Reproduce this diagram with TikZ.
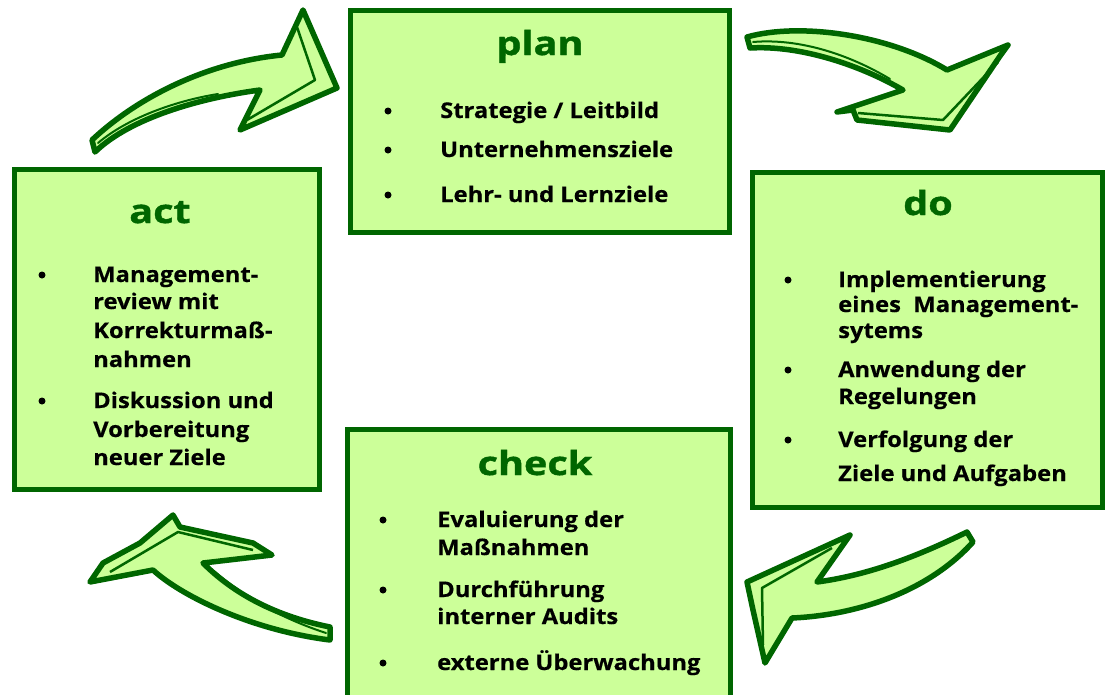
\documentclass[tikz,border=0pt]{standalone}
\usepackage{fontspec}
\setmainfont{Open Sans}
\newfontfamily\itemfont{Open Sans}[FakeStretch=1.1,FakeBold=0.4]
\newfontfamily\titlefont{Open Sans}[FakeStretch=1.2,FakeBold=1.2]
\definecolor{dg}{RGB}{0,102,0}
\definecolor{lg}{RGB}{204,255,153}
\tikzset{
 box/.style={draw=dg, fill=lg, line width=5pt, inner sep=0},
 ttl/.style={anchor=base, text=dg, font=\titlefont\fontsize{33}{33}\selectfont\bfseries, inner sep=0},
 itm/.style={anchor=base west, font=\itemfont\fontsize{21.6}{21.6}\selectfont\bfseries, inner sep=0},
 bul/.style={circle, fill=black, inner sep=0, minimum size=7pt},
 arr/.style={draw=dg, fill=lg, line width=5.5pt, line join=round},
 arrin/.style={draw=dg, line width=2.5pt, line join=round},
 arrline/.style={draw=dg, line width=2pt, line cap=round}
}
\begin{document}
\begin{tikzpicture}[x=1pt,y=-1pt]
\useasboundingbox (0,0) rectangle (1112,694);
\clip (0,0) rectangle (1112,694);
% boxes
\node[box, minimum width=379pt, minimum height=222pt] (planbox) at (540,121.5) {};
\node[box, minimum width=350pt, minimum height=335pt] (dobox) at (927.5,340) {};
\node[box, minimum width=383pt, minimum height=290pt] (checkbox) at (539,574.5) {};
\node[box, minimum width=305pt, minimum height=320pt] (actbox) at (167,329.5) {};
% arrows
% act -> plan
\path[arr] (92,140) .. controls (140,95) and (210,62) .. (282,55) -- (303,10) -- (337,88) -- (240,130) -- (260,90) .. controls (200,98) and (130,118) .. (95,152) -- cycle;
\draw[arrin] (297,27) -- (315,80) -- (247,120);
\draw[arrline] (98,143) .. controls (130,116) and (180,100) .. (218,94);
% plan -> do
\path[arr] (747,37) .. controls (800,22) and (890,35) .. (947,70) -- (1008,45) -- (1000,56) -- (950,130) -- (857,120) -- (853,110) -- (837,112) -- (903,90) .. controls (860,65) and (800,45) .. (750,48) -- cycle;
\draw[arrin] (998,62) -- (943,120) -- (858,113);
\draw[arrline] (753,42) .. controls (800,38) and (850,55) .. (890,79);
% do -> check
\path[arr] (967,532) .. controls (920,555) and (870,575) .. (817,582) -- (850,535) -- (747,582) -- (753,610) -- (765,663) -- (792,618) .. controls (860,615) and (930,590) .. (973,542) -- cycle;
\draw[arrin] (832,548) -- (762,588) -- (763,645);
% check -> act
\path[arr] (330,627) .. controls (270,615) and (230,590) .. (203,563) -- (272,555) -- (253,543) -- (180,527) -- (173,515) -- (140,543) -- (103,563) -- (90,582) -- (153,570) .. controls (180,595) and (250,630) .. (330,640) -- cycle;
\draw[arrin] (253,550) -- (178,532) -- (110,572);
\draw[arrline] (215,572) .. controls (245,597) and (280,618) .. (326,633);
% plan text
\node[ttl] (plan) at (540,55) {plan};
\node[bul] (pb1) at (388,111) {};
\node[itm] (p1) at (440,118) {Strategie / Leitbild};
\node[bul] (pb2) at (388,150) {};
\node[itm] (p2) at (440,157) {Unternehmensziele};
\node[bul] (pb3) at (388,195) {};
\node[itm] (p3) at (440,202) {Lehr- und Lernziele};
% do text
\node[ttl] (do) at (928,215) {do};
\node[bul] (db1) at (788,280) {};
\node[itm] (d1) at (838,287) {Implementierung};
\node[itm] (d2) at (838,312) {eines\ \ Management-};
\node[itm] (d3) at (838,338) {sytems};
\node[bul] (db2) at (788,370) {};
\node[itm] (d4) at (838,377) {Anwendung der};
\node[itm] (d5) at (838,404) {Regelungen};
\node[bul] (db3) at (788,440) {};
\node[itm] (d6) at (838,447) {Verfolgung der};
\node[itm] (d7) at (838,481) {Ziele und Aufgaben};
% check text
\node[ttl] (check) at (535,475) {check};
\node[bul] (cb1) at (383,520) {};
\node[itm] (c1) at (437,527) {Evaluierung der};
\node[itm] (c2) at (437,555) {Maßnahmen};
\node[bul] (cb2) at (383,590) {};
\node[itm] (c3) at (437,597) {Durchführung};
\node[itm] (c4) at (437,624) {interner Audits};
\node[bul] (cb3) at (383,663) {};
\node[itm] (c5) at (437,670) {externe Überwachung};
% act text
\node[ttl] (act) at (160,223) {act};
\node[bul] (ab1) at (42,275) {};
\node[itm] (a1) at (93,282) {Management-};
\node[itm] (a2) at (93,309) {review mit};
\node[itm] (a3) at (93,338) {Korrekturmaß-};
\node[itm] (a4) at (93,367) {nahmen};
\node[bul] (ab2) at (42,401) {};
\node[itm] (a5) at (93,408) {Diskussion und};
\node[itm] (a6) at (93,437) {Vorbereitung};
\node[itm] (a7) at (93,465) {neuer Ziele};
\end{tikzpicture}
\end{document}
